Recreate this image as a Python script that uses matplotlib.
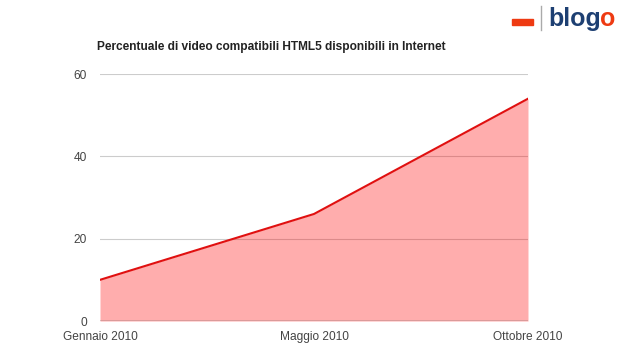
import matplotlib
matplotlib.use("Agg")
import matplotlib.pyplot as plt

categories = ["Gennaio 2010", "Maggio 2010", "Ottobre 2010"]
values = [10, 26, 54]
yticks = [0, 20, 40, 60]
title = "Percentuale di video compatibili HTML5 disponibili in Internet"

plt.rcParams['font.family'] = ['Liberation Sans', 'DejaVu Sans']

fig = plt.figure(figsize=(6.2, 3.5), dpi=100)
ax = fig.add_axes([100/620, 1-321/350, 428/620, 247/350])
x = list(range(len(categories)))
ax.fill_between(x, values, 0, color="#ff0000", alpha=0.32, linewidth=0, zorder=2)
ax.plot(x, values, color="#e01010", linewidth=1.5, zorder=3)
ax.set_xlim(0, len(categories) - 1)
ax.set_ylim(0, 60)
ax.set_yticks(yticks)
ax.set_xticks(x)
ax.set_xticklabels(categories)
for s in ax.spines.values():
    s.set_visible(False)
ax.axhline(0, color="#555555", linewidth=1, zorder=4)
ax.grid(axis="y", color="#cccccc", linewidth=0.8, zorder=1)
ax.set_axisbelow(True)
ax.tick_params(length=0, labelsize=8.6, colors="#444444")
ax.tick_params(axis="y", pad=9.5)
ax.tick_params(axis="x", pad=7)

fig.text(97/620, 1-47/350, title, fontsize=8.6, fontweight="bold", color="#222222", va="center", ha="left")

# logo
fig.patches.append(plt.Rectangle((512/620, 1-25/350), 21/620, 6/350, transform=fig.transFigure, color="#ee3a12", figure=fig))
fig.add_artist(plt.Line2D([541/620, 541/620], [1-6/350, 1-30/350], transform=fig.transFigure, color="#aaaaaa", linewidth=1))
fig.text(601/620, 1-19/350, "blog", fontsize=18, fontweight="bold", color="#1d3f72", va="center", ha="right")
fig.text(600/620, 1-19/350, "o", fontsize=18, fontweight="bold", color="#ee3a12", va="center", ha="left")

fig.savefig("out.png", dpi=100, facecolor="white")
